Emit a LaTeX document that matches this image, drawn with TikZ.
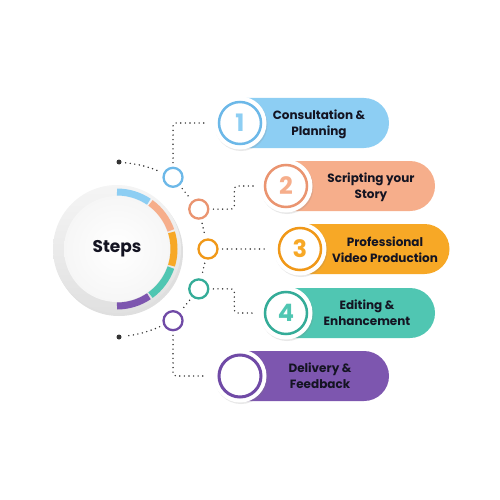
\documentclass[tikz,border=0pt]{standalone}
\usepackage{fontspec}
\setmainfont{Poppins}
\usetikzlibrary{shapes.misc,shadows}

\definecolor{stepink}{RGB}{20,20,34}
\definecolor{fillblue}{RGB}{141,206,243}
\definecolor{ringblue}{RGB}{108,184,232}
\definecolor{fillsalmon}{RGB}{246,174,139}
\definecolor{ringsalmon}{RGB}{234,148,112}
\definecolor{fillorange}{RGB}{247,168,38}
\definecolor{ringorange}{RGB}{240,152,24}
\definecolor{fillteal}{RGB}{80,198,178}
\definecolor{ringteal}{RGB}{52,172,152}
\definecolor{fillpurple}{RGB}{125,86,175}
\definecolor{ringpurple}{RGB}{112,74,166}

\begin{document}
\begin{tikzpicture}[x={(1pt,0pt)}, y={(0pt,-1pt)},
  dotline/.style={line width=1.6pt, dash pattern=on 0pt off 4.6pt, line cap=round,
    black!80, shorten <=4pt, shorten >=6pt},
  hub/.style={circle, inner sep=0pt, minimum size=19pt, fill=white, draw=#1, line width=2.3pt},
  pill/.style={rounded rectangle, rounded rectangle left arc=none, inner sep=0pt,
    minimum width=149pt, minimum height=50pt, fill=#1},
  badge/.style={circle, inner sep=0pt, minimum size=53pt, fill=white,
    drop shadow={opacity=0.18, shadow xshift=1pt, shadow yshift=-1.5pt}},
  numring/.style={circle, inner sep=0pt, minimum size=42pt, draw=#1, line width=2.5pt,
    font=\fontsize{24}{24}\selectfont\bfseries},
  steplabel/.style={align=center, text=stepink, font=\fontsize{12}{16}\selectfont\bfseries},
  seg/.style={line width=7pt}]
  \useasboundingbox (0,0) rectangle (500,500);

  \node[circle, minimum size=128pt, top color=gray!8, bottom color=gray!24,
    drop shadow={opacity=0.25, shadow xshift=2pt, shadow yshift=-3pt}] (main) at (117,249) {};
  \node[circle, minimum size=106pt, inner color=white, outer color=gray!7, text=stepink,
    font=\fontsize{17}{17}\selectfont\bfseries] (steps) at (117,249) {Steps};

  \draw[seg, fillblue] (main.center) ++(90:57pt) arc[start angle=90, end angle=56, radius=57pt];
  \draw[seg, fillsalmon] (main.center) ++(54:57pt) arc[start angle=54, end angle=19, radius=57pt];
  \draw[seg, fillorange] (main.center) ++(17:57pt) arc[start angle=17, end angle=-17, radius=57pt];
  \draw[seg, fillteal] (main.center) ++(-19:57pt) arc[start angle=-19, end angle=-54, radius=57pt];
  \draw[seg, fillpurple] (main.center) ++(-56:57pt) arc[start angle=-56, end angle=-90, radius=57pt];

  \node[circle, fill=black!80, inner sep=0pt, minimum size=5pt] (d1) at (119,162) {};
  \node[circle, fill=black!80, inner sep=0pt, minimum size=5pt] (d2) at (119,337) {};

  \node[hub=ringblue] (r1) at ([shift={(52:91pt)}]main.center) {};
  \node[hub=ringsalmon] (r2) at ([shift={(26:91pt)}]main.center) {};
  \node[hub=ringorange] (r3) at ([shift={(0:91pt)}]main.center) {};
  \node[hub=ringteal] (r4) at ([shift={(-26:91pt)}]main.center) {};
  \node[hub=ringpurple] (r5) at ([shift={(-52:91pt)}]main.center) {};

  \draw[dotline] (d1) to[bend left=8] (r1);
  \draw[dotline] (r1) -- (r2);
  \draw[dotline] (r2) -- (r3);
  \draw[dotline] (r3) -- (r4);
  \draw[dotline] (r4) -- (r5);
  \draw[dotline] (r5) to[bend left=8] (d2);

  \node[pill=fillblue] (p1) at (314.5,123) {};
  \node[pill=fillsalmon] (p2) at (360.5,186) {};
  \node[pill=fillorange] (p3) at (375,249) {};
  \node[pill=fillteal] (p4) at (360.5,313) {};
  \node[pill=fillpurple] (p5) at (314.5,376) {};

  \node[badge] (b1) at (240,123) {};
  \node[badge] (b2) at (286,186) {};
  \node[badge] (b3) at (300,249) {};
  \node[badge] (b4) at (286,313) {};
  \node[badge] (b5) at (240,376) {};

  \node[numring=ringblue, text=fillblue] (n1) at (b1) {1};
  \node[numring=ringsalmon, text=fillsalmon] (n2) at (b2) {2};
  \node[numring=ringorange, text=fillorange] (n3) at (b3) {3};
  \node[numring=ringteal, text=fillteal] (n4) at (b4) {4};
  \node[numring=ringpurple, line width=3pt] (n5) at (b5) {};

  \node[steplabel] (t1) at (319,124) {Consultation \&\\Planning};
  \node[steplabel] (t2) at (371,187) {Scripting your\\Story};
  \node[steplabel] (t3) at (385,250) {Professional\\Video Production};
  \node[steplabel] (t4) at (367,313) {Editing \&\\Enhancement};
  \node[steplabel] (t5) at (320,376) {Delivery \&\\Feedback};

  \draw[dotline, rounded corners=3pt] (r1) |- (b1);
  \draw[dotline, rounded corners=3pt] (r2) -| ([xshift=-25pt]b2.west) -- (b2);
  \draw[dotline] (r3) -- (b3);
  \draw[dotline, rounded corners=3pt] (r4) -| ([xshift=-25pt]b4.west) -- (b4);
  \draw[dotline, rounded corners=3pt] (r5) |- (b5);
\end{tikzpicture}
\end{document}
